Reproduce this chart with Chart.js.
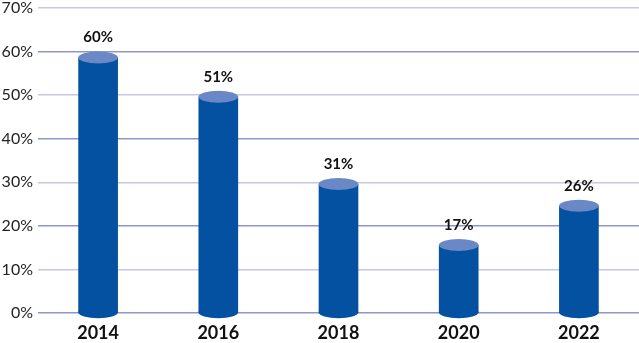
<!DOCTYPE html>
<html>
<head>
<meta charset="utf-8">
<script src="https://cdn.jsdelivr.net/npm/chart.js@4"></script>
<style>
  html, body { margin: 0; padding: 0; background: #fff; }
  #wrap { width: 639px; height: 343px; }
</style>
</head>
<body>
<div id="wrap"><canvas id="chart"></canvas></div>
<script>
// Chart data
const years = ['2014', '2016', '2018', '2020', '2022'];
const shares = [60, 51, 31, 17, 26];
const yTicks = [0, 10, 20, 30, 40, 50, 60, 70];

const bodyColor = '#0351a0';
const capColor = '#6a87c6';

// Draw each bar as a cylinder with a light top and a value label
const cylinderPlugin = {
    id: 'cylinders',
    afterDatasetsDraw(chart) {
        const ctx = chart.ctx;
        const meta = chart.getDatasetMeta(0);
        meta.data.forEach((bar, i) => {
            const w = bar.width;
            const rx = w / 2;
            const ry = 6;
            const top = bar.y + ry;
            const base = bar.base;

            ctx.save();
            ctx.fillStyle = bodyColor;
            ctx.fillRect(bar.x - rx, top, w, base - top);
            ctx.beginPath();
            ctx.ellipse(bar.x, base, rx, ry, 0, 0, Math.PI * 2);
            ctx.fill();

            ctx.fillStyle = capColor;
            ctx.beginPath();
            ctx.ellipse(bar.x, top, rx, ry, 0, 0, Math.PI * 2);
            ctx.fill();

            ctx.fillStyle = '#111';
            ctx.font = 'bold 15px Lato';
            ctx.textAlign = 'center';
            ctx.textBaseline = 'middle';
            ctx.fillText(shares[i] + '%', bar.x, bar.y - 14);
            ctx.restore();
        });
    }
};

new Chart(document.getElementById('chart'), {
    type: 'bar',
    data: {
        labels: years,
        datasets: [{
            data: shares,
            backgroundColor: 'rgba(0,0,0,0)',
            barPercentage: 0.33,
            categoryPercentage: 1
        }]
    },
    options: {
        responsive: true,
        maintainAspectRatio: false,
        animation: false,
        layout: { padding: { top: 8, right: 0, left: 0, bottom: 0 } },
        plugins: {
            legend: { display: false },
            tooltip: { enabled: false }
        },
        scales: {
            x: {
                grid: { display: false, drawTicks: false },
                border: { display: false },
                afterFit: (axis) => { axis.height = 30; },
                ticks: {
                    color: '#111',
                    font: { family: 'Lato', size: 18, weight: 'bold' },
                    padding: 9
                }
            },
            y: {
                min: 0,
                max: 70,
                afterBuildTicks: (axis) => {
                    axis.ticks = yTicks.map(v => ({ value: v }));
                },
                afterFit: (axis) => {
                    axis.width = 38;
                    axis.paddingTop = 0;
                    axis.paddingBottom = 0;
                },
                grid: {
                    drawTicks: false,
                    color: (c) => (c.tick && c.tick.value % 20 === 0) ? '#8f96c8' : '#c6c8e2',
                    lineWidth: 1.5
                },
                border: { display: false },
                ticks: {
                    color: '#222',
                    font: { family: 'Lato', size: 16 },
                    padding: 5,
                    callback: (v) => v + '%'
                }
            }
        }
    },
    plugins: [cylinderPlugin]
});
</script>
</body>
</html>
